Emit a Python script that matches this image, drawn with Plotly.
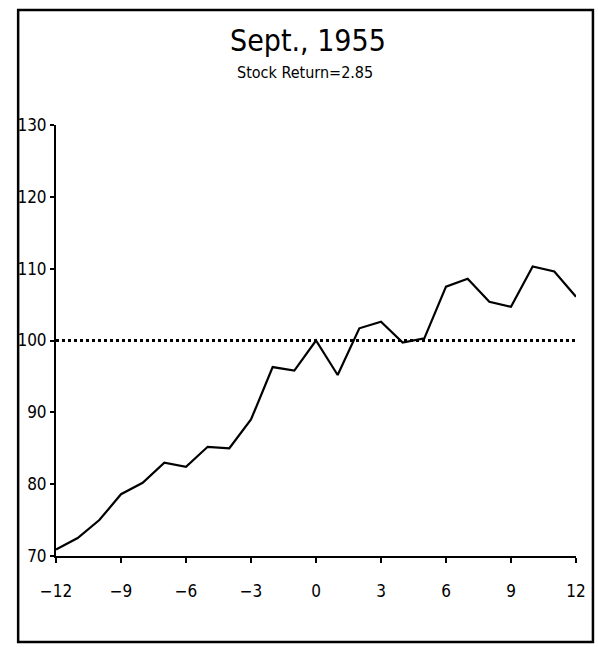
import plotly.graph_objects as go

months = list(range(-12, 13))
index_values = [70.9, 72.5, 75.0, 78.6, 80.2, 83.0, 82.4, 85.2, 85.0, 89.0,
                96.3, 95.8, 100.0, 95.2, 101.7, 102.6, 99.7, 100.3, 107.5,
                108.6, 105.4, 104.7, 110.3, 109.6, 106.1]
ref_level = 100
x_ticks = [-12, -9, -6, -3, 0, 3, 6, 9, 12]
y_ticks = [70, 80, 90, 100, 110, 120, 130]
title_text = "Sept., 1955"
subtitle_text = "Stock Return=2.85"

W, H = 598, 647
L, R, T, B = 56, 20, 125, 91
pw, ph = W - L - R, H - T - B

def px_x(p):
    return (p - L) / pw

def px_y(p):
    return (H - B - p) / ph

FONT = "DejaVu Sans Condensed, Liberation Sans Narrow, DejaVu Sans, sans-serif"

fig = go.Figure()
fig.add_trace(go.Scatter(x=[months[0], months[-1]], y=[ref_level, ref_level],
                         mode="lines", line=dict(color="black", width=3, dash="dot"),
                         hoverinfo="skip", showlegend=False))
fig.add_trace(go.Scatter(x=months, y=index_values, mode="lines",
                         line=dict(color="black", width=2.2), showlegend=False))

fig.add_shape(type="rect", xref="paper", yref="paper",
              x0=px_x(18), x1=px_x(595), y0=px_y(642), y1=px_y(10),
              line=dict(color="black", width=2.5), fillcolor="rgba(0,0,0,0)")

fig.add_annotation(text=title_text, xref="paper", yref="paper",
                   x=px_x(309), y=px_y(40), showarrow=False,
                   font=dict(family=FONT, size=30, color="black"),
                   xanchor="center", yanchor="middle")
fig.add_annotation(text=subtitle_text, xref="paper", yref="paper",
                   x=px_x(306), y=px_y(73), showarrow=False,
                   font=dict(family=FONT, size=16, color="black"),
                   xanchor="center", yanchor="middle")

fig.update_layout(
    width=W, height=H,
    margin=dict(l=L, r=R, t=T, b=B),
    paper_bgcolor="white", plot_bgcolor="white",
    font=dict(family=FONT, color="black"),
)
fig.update_xaxes(range=[-12, 12], tickvals=x_ticks,
                 ticktext=[("\u2212" + str(-v)) if v < 0 else str(v) for v in x_ticks],
                 showgrid=False, zeroline=False, showline=True, linecolor="black",
                 linewidth=2, ticks="outside", ticklen=5, tickwidth=1.5, tickcolor="black",
                 tickfont=dict(size=17, family=FONT), ticklabelstandoff=14)
fig.update_yaxes(range=[70, 130], tickvals=y_ticks,
                 showgrid=False, zeroline=False, showline=True, linecolor="black",
                 linewidth=2, ticks="outside", ticklen=4, tickwidth=1.5, tickcolor="black",
                 tickfont=dict(size=17, family=FONT), ticklabelstandoff=0)

fig.write_html("out.html", config={"displayModeBar": False},
               post_script="document.body.style.margin='0px';document.body.style.overflow='hidden';")
